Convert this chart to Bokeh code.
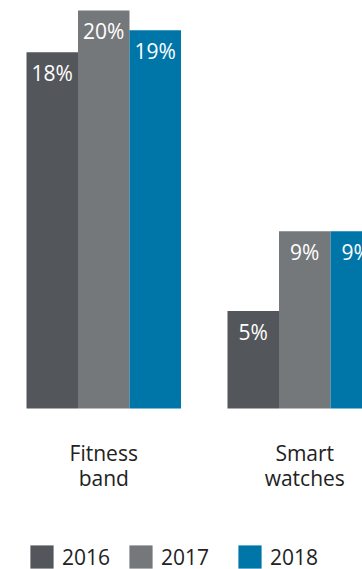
from bokeh.plotting import figure
from bokeh.models import ColumnDataSource, FactorRange, Range1d, Legend, LegendItem
from bokeh.transform import dodge
from bokeh.core.properties import value
from bokeh.embed import file_html
from bokeh.resources import INLINE

# ---- data ----
categories = ["Fitness band", "Smart watches"]
category_labels = ["Fitness\nband", "Smart\nwatches"]
years = ["2016", "2017", "2018"]
values_2016 = [17.9, 4.9]
values_2017 = [20.0, 8.9]
values_2018 = [19.0, 8.9]

colors = ["#53565A", "#75787B", "#0076A8"]
FONT = "Open Sans"

series = [values_2016, values_2017, values_2018]

p = figure(width=362, height=569, output_backend="svg", toolbar_location=None,
           x_range=FactorRange(factors=categories, factor_padding=1.0,
                               range_padding=0.301, range_padding_units="absolute"),
           y_range=Range1d(-8.09, 20.5),
           x_axis_location=None, y_axis_location=None,
           min_border=0, outline_line_color=None)
p.grid.visible = False
p.background_fill_color = "white"
p.border_fill_color = "white"

bar_w = 0.5124
shift = 0.2264

renderers = []
for i, (yr, vals, col) in enumerate(zip(years, series, colors)):
    src = ColumnDataSource(dict(cat=categories, val=vals,
                                lab=[f"{v:.0f}%" for v in vals]))
    off = shift + (i - 1) * bar_w
    r = p.vbar(x=dodge("cat", off, range=p.x_range), top="val", bottom=0,
               width=bar_w, source=src, fill_color=col, line_color=None)
    renderers.append(r)
    p.text(x=dodge("cat", off, range=p.x_range), y="val", text="lab", source=src,
           text_align="center", text_baseline="top", y_offset=7,
           text_color="white", text_font=value(FONT), text_font_size="21px")

lab_src = ColumnDataSource(dict(cat=categories, lab=category_labels, y=[0, 0]))
p.text(x=dodge("cat", shift, range=p.x_range), y="y", text="lab", source=lab_src,
       text_align="center", text_baseline="top", y_offset=31,
       text_line_height=0.87,
       text_color="#222222", text_font=value(FONT), text_font_size="21px")

legend_x = [27, 126, 235]
for yr, r, lx in zip(years, renderers, legend_x):
    lg = Legend(items=[LegendItem(label=yr, renderers=[r])], location=(lx, -2),
                orientation="horizontal", glyph_width=29, glyph_height=29,
                label_standoff=6, padding=0, margin=0, spacing=0,
                border_line_alpha=0, background_fill_alpha=0,
                label_text_font=FONT, label_text_font_size="21px",
                label_text_color="#222222")
    p.add_layout(lg, "center")

open("out.html", "w").write(file_html(p, INLINE))
